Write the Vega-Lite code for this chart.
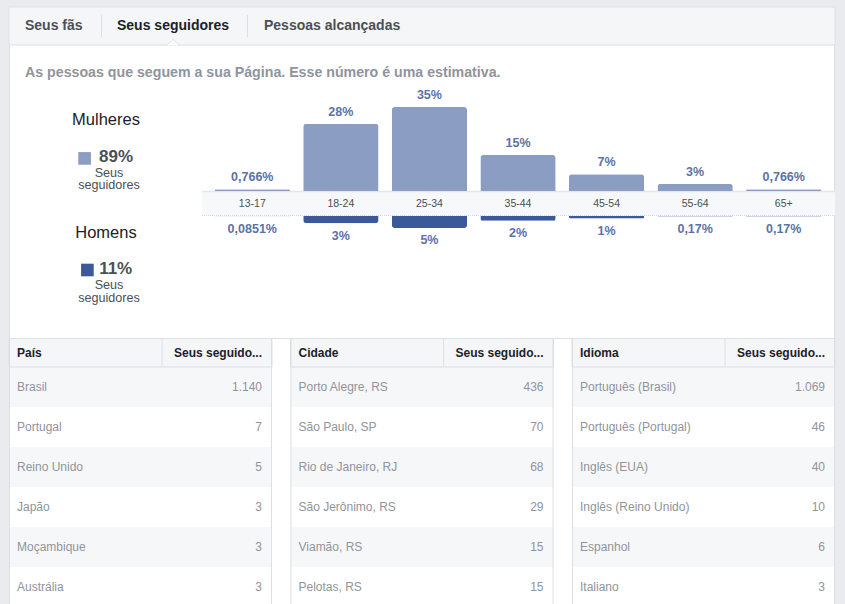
{
  "$schema": "https://vega.github.io/schema/vega-lite/v6.json",
  "width": 845,
  "height": 604,
  "autosize": {"type": "fit", "contains": "padding"},
  "padding": {"left": 8, "top": 6, "right": 11, "bottom": 0},
  "background": "#e9ebee",
  "config": {
    "view": {"fill": "#ffffff", "stroke": "#dddfe2", "cornerRadius": 3},
    "axis": {"disable": true},
    "legend": {"disable": true},
    "text": {"font": "Liberation Sans"},
    "locale": {"number": {"decimal": ",", "thousands": ".", "grouping": [3], "currency": ["R$", ""]}}
  },
  "datasets": {
    "idades": [
      {"idade": "13-17", "mulheres": 0.00766, "homens": 0.000851},
      {"idade": "18-24", "mulheres": 0.28, "homens": 0.03},
      {"idade": "25-34", "mulheres": 0.35, "homens": 0.05},
      {"idade": "35-44", "mulheres": 0.15, "homens": 0.02},
      {"idade": "45-54", "mulheres": 0.07, "homens": 0.01},
      {"idade": "55-64", "mulheres": 0.03, "homens": 0.0017},
      {"idade": "65+", "mulheres": 0.00766, "homens": 0.0017}
    ],
    "sexos": [
      {"sexo": "Mulheres", "share": 0.89},
      {"sexo": "Homens", "share": 0.11}
    ],
    "abas": [
      {"aba": "Seus fãs", "ativa": false},
      {"aba": "Seus seguidores", "ativa": true},
      {"aba": "Pessoas alcançadas", "ativa": false}
    ],
    "cabecalhos": [
      {"tabela": "País", "coluna": "Seus seguido..."},
      {"tabela": "Cidade", "coluna": "Seus seguido..."},
      {"tabela": "Idioma", "coluna": "Seus seguido..."}
    ],
    "tabelas": [
      {"tabela": "País", "pos": 1, "nome": "Brasil", "seguidores": 1140},
      {"tabela": "País", "pos": 2, "nome": "Portugal", "seguidores": 7},
      {"tabela": "País", "pos": 3, "nome": "Reino Unido", "seguidores": 5},
      {"tabela": "País", "pos": 4, "nome": "Japão", "seguidores": 3},
      {"tabela": "País", "pos": 5, "nome": "Moçambique", "seguidores": 3},
      {"tabela": "País", "pos": 6, "nome": "Austrália", "seguidores": 3},
      {"tabela": "Cidade", "pos": 1, "nome": "Porto Alegre, RS", "seguidores": 436},
      {"tabela": "Cidade", "pos": 2, "nome": "São Paulo, SP", "seguidores": 70},
      {"tabela": "Cidade", "pos": 3, "nome": "Rio de Janeiro, RJ", "seguidores": 68},
      {"tabela": "Cidade", "pos": 4, "nome": "São Jerônimo, RS", "seguidores": 29},
      {"tabela": "Cidade", "pos": 5, "nome": "Viamão, RS", "seguidores": 15},
      {"tabela": "Cidade", "pos": 6, "nome": "Pelotas, RS", "seguidores": 15},
      {"tabela": "Idioma", "pos": 1, "nome": "Português (Brasil)", "seguidores": 1069},
      {"tabela": "Idioma", "pos": 2, "nome": "Português (Portugal)", "seguidores": 46},
      {"tabela": "Idioma", "pos": 3, "nome": "Inglês (EUA)", "seguidores": 40},
      {"tabela": "Idioma", "pos": 4, "nome": "Inglês (Reino Unido)", "seguidores": 10},
      {"tabela": "Idioma", "pos": 5, "nome": "Espanhol", "seguidores": 6},
      {"tabela": "Idioma", "pos": 6, "nome": "Italiano", "seguidores": 3}
    ]
  },
  "resolve": {"scale": {"x": "independent", "y": "independent", "color": "independent"}},
  "layer": [
    {
      "data": {"values": [{}]},
      "mark": {"type": "rect", "fill": "#f5f6f7", "stroke": "#dddfe2", "strokeWidth": 1},
      "encoding": {
        "x": {"datum": 0, "type": "quantitative", "scale": {"domain": [0, 1], "range": [0, 826]}},
        "x2": {"datum": 1},
        "y": {"datum": 0, "type": "quantitative", "scale": {"domain": [0, 1], "range": [0, 38]}},
        "y2": {"datum": 1}
      }
    },
    {
      "data": {"name": "abas"},
      "transform": [{"filter": "datum.ativa"}],
      "mark": {"type": "point", "shape": "M-1,0.5L0,-0.5L1,0.5", "size": 144, "filled": true, "fill": "#ffffff", "stroke": "#dddfe2", "strokeWidth": 1, "opacity": 1},
      "encoding": {
        "x": {"field": "aba", "type": "nominal", "scale": {"type": "point", "range": [164, 164], "padding": 0}},
        "y": {"datum": 0, "type": "quantitative", "scale": {"domain": [0, 1], "range": [35.3, 36.3]}}
      }
    },
    {
      "data": {"name": "abas"},
      "transform": [{"filter": "datum.aba !== 'Pessoas alcançadas'"}],
      "mark": {"type": "rule", "color": "#dddfe2", "strokeWidth": 1},
      "encoding": {
        "x": {"field": "aba", "type": "nominal", "sort": null, "scale": {"type": "point", "domain": ["Seus fãs", "Seus seguidores"], "range": [92.5, 238.5], "padding": 0}},
        "y": {"datum": 0, "type": "quantitative", "scale": {"domain": [0, 1], "range": [8, 30]}},
        "y2": {"datum": 1}
      }
    },
    {
      "data": {"name": "abas"},
      "transform": [{"filter": "!datum.ativa"}],
      "mark": {"type": "text", "align": "left", "baseline": "middle", "fontSize": 14, "fontWeight": "bold", "color": "#4b4f56"},
      "encoding": {
        "x": {"field": "aba", "type": "nominal", "sort": null, "scale": {"type": "point", "domain": ["Seus fãs", "Pessoas alcançadas"], "range": [16, 255], "padding": 0}},
        "y": {"datum": 0, "type": "quantitative", "scale": {"domain": [0, 1], "range": [19, 20]}},
        "text": {"field": "aba"}
      }
    },
    {
      "data": {"name": "abas"},
      "transform": [{"filter": "datum.ativa"}],
      "mark": {"type": "text", "align": "left", "baseline": "middle", "fontSize": 14, "fontWeight": "bold", "color": "#1d2129"},
      "encoding": {
        "x": {"field": "aba", "type": "nominal", "scale": {"type": "point", "range": [108, 108], "padding": 0}},
        "y": {"datum": 0, "type": "quantitative", "scale": {"domain": [0, 1], "range": [19, 20]}},
        "text": {"field": "aba"}
      }
    },
    {
      "data": {"values": [{"nota": "As pessoas que seguem a sua Página. Esse número é uma estimativa."}]},
      "mark": {"type": "text", "align": "left", "baseline": "middle", "fontSize": 14.2, "fontWeight": "bold", "color": "#90949c"},
      "encoding": {
        "x": {"field": "nota", "type": "nominal", "scale": {"type": "point", "range": [16, 16], "padding": 0}},
        "y": {"field": "nota", "type": "nominal", "scale": {"type": "point", "range": [66, 66], "padding": 0}},
        "text": {"field": "nota"}
      }
    },
    {
      "data": {"name": "sexos"},
      "mark": {"type": "text", "align": "center", "baseline": "middle", "fontSize": 16.5, "color": "#1d2129"},
      "encoding": {
        "x": {"field": "sexo", "type": "nominal", "sort": null, "scale": {"type": "point", "domain": ["Mulheres", "Homens"], "range": [97, 97], "padding": 0}},
        "y": {"field": "sexo", "type": "nominal", "sort": null, "scale": {"type": "point", "domain": ["Mulheres", "Homens"], "range": [113, 225.7], "padding": 0}},
        "text": {"field": "sexo"}
      }
    },
    {
      "data": {"name": "sexos"},
      "mark": {"type": "point", "shape": "square", "size": 160, "filled": true, "opacity": 1},
      "encoding": {
        "x": {"field": "sexo", "type": "nominal", "sort": null, "scale": {"type": "point", "domain": ["Mulheres", "Homens"], "range": [75.6, 78.4], "padding": 0}},
        "y": {"field": "sexo", "type": "nominal", "sort": null, "scale": {"type": "point", "domain": ["Mulheres", "Homens"], "range": [151.4, 263], "padding": 0}},
        "color": {"field": "sexo", "type": "nominal", "scale": {"domain": ["Mulheres", "Homens"], "range": ["#8b9dc3", "#3b5998"]}, "legend": null}
      }
    },
    {
      "data": {"name": "sexos"},
      "mark": {"type": "text", "align": "center", "baseline": "middle", "fontSize": 17, "fontWeight": "bold", "color": "#4b4f56"},
      "encoding": {
        "x": {"field": "sexo", "type": "nominal", "sort": null, "scale": {"type": "point", "domain": ["Mulheres", "Homens"], "range": [107, 106.7], "padding": 0}},
        "y": {"field": "sexo", "type": "nominal", "sort": null, "scale": {"type": "point", "domain": ["Mulheres", "Homens"], "range": [149.7, 262], "padding": 0}},
        "text": {"field": "share", "format": ".0%"}
      }
    },
    {
      "data": {"name": "sexos"},
      "mark": {"type": "text", "align": "center", "baseline": "middle", "fontSize": 12.6, "color": "#4b4f56"},
      "encoding": {
        "x": {"field": "sexo", "type": "nominal", "sort": null, "scale": {"type": "point", "domain": ["Mulheres", "Homens"], "range": [100, 100], "padding": 0}},
        "y": {"field": "sexo", "type": "nominal", "sort": null, "scale": {"type": "point", "domain": ["Mulheres", "Homens"], "range": [165.7, 277.7], "padding": 0}},
        "text": {"value": "Seus"}
      }
    },
    {
      "data": {"name": "sexos"},
      "mark": {"type": "text", "align": "center", "baseline": "middle", "fontSize": 12.6, "color": "#4b4f56"},
      "encoding": {
        "x": {"field": "sexo", "type": "nominal", "sort": null, "scale": {"type": "point", "domain": ["Mulheres", "Homens"], "range": [100, 100], "padding": 0}},
        "y": {"field": "sexo", "type": "nominal", "sort": null, "scale": {"type": "point", "domain": ["Mulheres", "Homens"], "range": [178.3, 290.7], "padding": 0}},
        "text": {"value": "seguidores"}
      }
    },
    {
      "data": {"values": [{}]},
      "mark": {"type": "rect", "fill": "#f7f8fa"},
      "encoding": {
        "x": {"datum": 0, "type": "quantitative", "scale": {"domain": [0, 1], "range": [193, 826]}},
        "x2": {"datum": 1},
        "y": {"datum": 0, "type": "quantitative", "scale": {"domain": [0, 1], "range": [184, 209]}},
        "y2": {"datum": 1}
      }
    },
    {
      "data": {"values": [{}]},
      "mark": {"type": "rule", "color": "#e4e6eb", "strokeWidth": 1.5},
      "encoding": {
        "x": {"datum": 0, "type": "quantitative", "scale": {"domain": [0, 1], "range": [193, 826]}},
        "x2": {"datum": 1},
        "y": {"datum": 0, "type": "quantitative", "scale": {"domain": [0, 1], "range": [184.5, 209]}}
      }
    },
    {
      "data": {"values": [{}]},
      "mark": {"type": "rule", "color": "#d8dbe0", "strokeWidth": 1, "strokeDash": [1, 1]},
      "encoding": {
        "x": {"datum": 0, "type": "quantitative", "scale": {"domain": [0, 1], "range": [193, 826]}},
        "x2": {"datum": 1},
        "y": {"datum": 1, "type": "quantitative", "scale": {"domain": [0, 1], "range": [184, 208.5]}}
      }
    },
    {
      "data": {"name": "idades"},
      "mark": {"type": "bar", "color": "#8b9dc3", "cornerRadiusTopLeft": 3, "cornerRadiusTopRight": 3},
      "encoding": {
        "x": {"field": "idade", "type": "nominal", "sort": null, "scale": {"type": "band", "range": [199, 819], "paddingInner": 0.15, "paddingOuter": 0.075}},
        "y": {"field": "mulheres", "type": "quantitative", "scale": {"domain": [0, 0.35], "range": [184, 100], "zero": true, "nice": false}}
      }
    },
    {
      "data": {"name": "idades"},
      "mark": {"type": "bar", "color": "#3b5998", "cornerRadiusBottomLeft": 3, "cornerRadiusBottomRight": 3},
      "encoding": {
        "x": {"field": "idade", "type": "nominal", "sort": null, "scale": {"type": "band", "range": [199, 819], "paddingInner": 0.15, "paddingOuter": 0.075}},
        "y": {"field": "homens", "type": "quantitative", "scale": {"domain": [0, 0.05], "range": [209, 221], "zero": true, "nice": false}}
      }
    },
    {
      "data": {"name": "idades"},
      "mark": {"type": "text", "align": "center", "baseline": "middle", "dy": -12.3, "fontSize": 12.5, "fontWeight": "bold", "color": "#5b72a7"},
      "encoding": {
        "x": {"field": "idade", "type": "nominal", "sort": null, "scale": {"type": "band", "range": [199, 819], "paddingInner": 0.15, "paddingOuter": 0.075}},
        "y": {"field": "mulheres", "type": "quantitative", "scale": {"domain": [0, 0.35], "range": [184, 100], "zero": true, "nice": false}},
        "text": {"field": "mulheres", "format": ".4~%"}
      }
    },
    {
      "data": {"name": "idades"},
      "mark": {"type": "text", "align": "center", "baseline": "middle", "dy": 12.4, "fontSize": 12.5, "fontWeight": "bold", "color": "#5b72a7"},
      "encoding": {
        "x": {"field": "idade", "type": "nominal", "sort": null, "scale": {"type": "band", "range": [199, 819], "paddingInner": 0.15, "paddingOuter": 0.075}},
        "y": {"field": "homens", "type": "quantitative", "scale": {"domain": [0, 0.05], "range": [209, 221], "zero": true, "nice": false}},
        "text": {"field": "homens", "format": ".4~%"}
      }
    },
    {
      "data": {"name": "idades"},
      "mark": {"type": "text", "align": "center", "baseline": "middle", "fontSize": 10.5, "color": "#4b4f56"},
      "encoding": {
        "x": {"field": "idade", "type": "nominal", "sort": null, "scale": {"type": "band", "range": [199, 819], "paddingInner": 0.15, "paddingOuter": 0.075}},
        "y": {"datum": 0.5, "type": "quantitative", "scale": {"domain": [0, 1], "range": [184, 209]}},
        "text": {"field": "idade"}
      }
    },
    {
      "data": {"name": "tabelas"},
      "mark": {"type": "rect"},
      "encoding": {
        "x": {"field": "tabela", "type": "nominal", "sort": null, "scale": {"type": "band", "domain": ["País", "Cidade", "Idioma"], "range": [0, 826], "paddingInner": 0.0657, "paddingOuter": 0}},
        "y": {"field": "pos", "type": "ordinal", "scale": {"type": "band", "domain": [1, 2, 3, 4, 5, 6], "range": [360, 600], "paddingInner": 0, "paddingOuter": 0}},
        "fill": {"condition": {"test": "datum.pos % 2 === 1", "value": "#f6f7f9"}, "value": "#ffffff"}
      }
    },
    {
      "data": {"values": [{}]},
      "mark": {"type": "rule", "color": "#dddfe2", "strokeWidth": 1},
      "encoding": {
        "x": {"datum": 0, "type": "quantitative", "scale": {"domain": [0, 1], "range": [0, 826]}},
        "x2": {"datum": 1},
        "y": {"datum": 0, "type": "quantitative", "scale": {"domain": [0, 1], "range": [331.5, 332]}}
      }
    },
    {
      "data": {"name": "cabecalhos"},
      "mark": {"type": "rect", "fill": "#f5f6f7", "stroke": "#dddfe2", "strokeWidth": 1},
      "encoding": {
        "x": {"field": "tabela", "type": "nominal", "sort": null, "scale": {"type": "band", "domain": ["País", "Cidade", "Idioma"], "range": [0, 826], "paddingInner": 0.0657, "paddingOuter": 0}},
        "y": {"datum": 0, "type": "quantitative", "scale": {"domain": [0, 1], "range": [331.5, 360]}},
        "y2": {"datum": 1}
      }
    },
    {
      "data": {"name": "cabecalhos"},
      "mark": {"type": "rule", "color": "#dddfe2", "strokeWidth": 1},
      "encoding": {
        "x": {"field": "tabela", "type": "nominal", "sort": null, "bandPosition": 0, "scale": {"type": "band", "domain": ["País", "Cidade", "Idioma"], "range": [0.5, 826.5], "paddingInner": 0.0657, "paddingOuter": 0}},
        "y": {"datum": 0, "type": "quantitative", "scale": {"domain": [0, 1], "range": [331.5, 598]}},
        "y2": {"datum": 1}
      }
    },
    {
      "data": {"name": "cabecalhos"},
      "mark": {"type": "rule", "color": "#dddfe2", "strokeWidth": 1},
      "encoding": {
        "x": {"field": "tabela", "type": "nominal", "sort": null, "bandPosition": 1, "scale": {"type": "band", "domain": ["País", "Cidade", "Idioma"], "range": [-0.5, 825.5], "paddingInner": 0.0657, "paddingOuter": 0}},
        "y": {"datum": 0, "type": "quantitative", "scale": {"domain": [0, 1], "range": [331.5, 598]}},
        "y2": {"datum": 1}
      }
    },
    {
      "data": {"name": "cabecalhos"},
      "mark": {"type": "rule", "color": "#dddfe2", "strokeWidth": 1},
      "encoding": {
        "x": {"field": "tabela", "type": "nominal", "sort": null, "bandPosition": 0.582, "scale": {"type": "band", "domain": ["País", "Cidade", "Idioma"], "range": [0, 826], "paddingInner": 0.0657, "paddingOuter": 0}},
        "y": {"datum": 0, "type": "quantitative", "scale": {"domain": [0, 1], "range": [331.5, 360]}},
        "y2": {"datum": 1}
      }
    },
    {
      "data": {"name": "cabecalhos"},
      "mark": {"type": "text", "align": "left", "baseline": "middle", "dx": 8, "fontSize": 12, "fontWeight": "bold", "color": "#1d2129"},
      "encoding": {
        "x": {"field": "tabela", "type": "nominal", "sort": null, "bandPosition": 0, "scale": {"type": "band", "domain": ["País", "Cidade", "Idioma"], "range": [0, 826], "paddingInner": 0.0657, "paddingOuter": 0}},
        "y": {"datum": 0.5, "type": "quantitative", "scale": {"domain": [0, 1], "range": [332, 360]}},
        "text": {"field": "tabela"}
      }
    },
    {
      "data": {"name": "cabecalhos"},
      "mark": {"type": "text", "align": "right", "baseline": "middle", "dx": -10, "fontSize": 12, "fontWeight": "bold", "color": "#1d2129"},
      "encoding": {
        "x": {"field": "tabela", "type": "nominal", "sort": null, "bandPosition": 1, "scale": {"type": "band", "domain": ["País", "Cidade", "Idioma"], "range": [0, 826], "paddingInner": 0.0657, "paddingOuter": 0}},
        "y": {"datum": 0.5, "type": "quantitative", "scale": {"domain": [0, 1], "range": [332, 360]}},
        "text": {"field": "coluna"}
      }
    },
    {
      "data": {"name": "tabelas"},
      "mark": {"type": "text", "align": "left", "baseline": "middle", "dx": 8, "fontSize": 12, "color": "#90949c"},
      "encoding": {
        "x": {"field": "tabela", "type": "nominal", "sort": null, "bandPosition": 0, "scale": {"type": "band", "domain": ["País", "Cidade", "Idioma"], "range": [0, 826], "paddingInner": 0.0657, "paddingOuter": 0}},
        "y": {"field": "pos", "type": "ordinal", "scale": {"type": "band", "domain": [1, 2, 3, 4, 5, 6], "range": [360, 600], "paddingInner": 0, "paddingOuter": 0}},
        "text": {"field": "nome"}
      }
    },
    {
      "data": {"name": "tabelas"},
      "mark": {"type": "text", "align": "right", "baseline": "middle", "dx": -10, "fontSize": 12, "color": "#90949c"},
      "encoding": {
        "x": {"field": "tabela", "type": "nominal", "sort": null, "bandPosition": 1, "scale": {"type": "band", "domain": ["País", "Cidade", "Idioma"], "range": [0, 826], "paddingInner": 0.0657, "paddingOuter": 0}},
        "y": {"field": "pos", "type": "ordinal", "scale": {"type": "band", "domain": [1, 2, 3, 4, 5, 6], "range": [360, 600], "paddingInner": 0, "paddingOuter": 0}},
        "text": {"field": "seguidores", "format": ",d"}
      }
    }
  ]
}
